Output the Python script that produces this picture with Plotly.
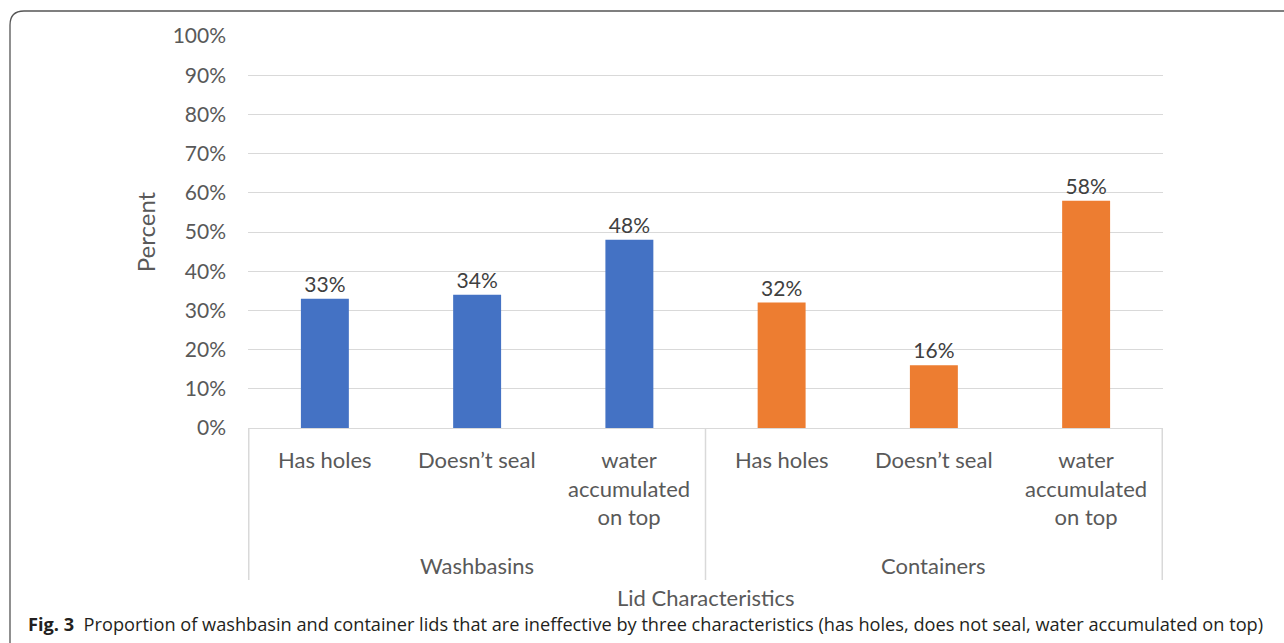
import plotly.graph_objects as go

groups = ["Washbasins", "Washbasins", "Washbasins", "Containers", "Containers", "Containers"]
categories = ["Has holes", "Doesn’t seal", "water<br>accumulated<br>on top",
              "Has holes", "Doesn’t seal", "water<br>accumulated<br>on top"]
group_names = ["Washbasins", "Containers"]
values = [0.33, 0.34, 0.48, 0.32, 0.16, 0.58]
labels = ["33%", "34%", "48%", "32%", "16%", "58%"]
bar_colors = ["#4472C4", "#4472C4", "#4472C4", "#ED7D31", "#ED7D31", "#ED7D31"]
y_ticks = [0, 0.1, 0.2, 0.3, 0.4, 0.5, 0.6, 0.7, 0.8, 0.9, 1.0]
y_ticktext = ["0%", "10%", "20%", "30%", "40%", "50%", "60%", "70%", "80%", "90%", "100%"]
caption = "<b>Fig. 3</b>  Proportion of washbasin and container lids that are ineffective by three characteristics (has holes, does not seal, water accumulated on top)"

W, H = 1284, 643
L, R, T, B = 248, 121, 36, 215
pw, ph = W - L - R, H - T - B

def px(xp):
    return (xp - L) / pw

def py(yp):
    return (H - B - yp) / ph

TXT = "#595959"
fig = go.Figure()
fig.add_trace(go.Bar(
    x=[groups, categories], y=values,
    marker=dict(color=bar_colors, line=dict(width=0)),
    text=labels, textposition="outside", cliponaxis=False,
    textfont=dict(family="Lato", size=21, color="#404040"),
    hoverinfo="skip",
))

# category labels (first level)
for i, c in enumerate(categories):
    fig.add_annotation(text=c, x=i, xref="x", y=py(444), yref="paper",
                       xanchor="center", yanchor="top", showarrow=False,
                       font=dict(family="Lato", size=22, color=TXT))

# group labels (second level) and dividers
n_per = len(categories) // len(group_names)
for g, name in enumerate(group_names):
    fig.add_annotation(text=name, x=g * n_per + (n_per - 1) / 2, xref="x",
                       y=py(565), yref="paper", xanchor="center", yanchor="middle",
                       showarrow=False, font=dict(family="Lato", size=22, color=TXT))
for k in range(len(group_names) + 1):
    xd = k * n_per - 0.5
    fig.add_shape(type="line", x0=xd, x1=xd, xref="x", y0=0, y1=py(580), yref="paper",
                  line=dict(color="#d9d9d9", width=1.5), layer="above")

# axis title
fig.add_annotation(text="Lid Characteristics", x=0.5, xref="paper", y=py(597), yref="paper",
                   xanchor="center", yanchor="middle", showarrow=False,
                   font=dict(family="Lato", size=22, color=TXT))

# rounded border frame
x0, y0 = px(10), py(11)
x1, y1 = px(1300), py(660)
rx, ry = 14 / pw, 14 / ph
path = (f"M {x0},{y1} L {x0},{y0 - ry} Q {x0},{y0} {x0 + rx},{y0} "
        f"L {x1},{y0}")
fig.add_shape(type="path", path=path, xref="paper", yref="paper",
              line=dict(color="#555555", width=1.3), layer="above")

fig.add_annotation(text=caption, x=px(26), y=py(624), xref="paper", yref="paper",
                   xanchor="left", yanchor="middle", showarrow=False,
                   font=dict(family="Open Sans", size=18.2, color="#231f20"))

fig.update_layout(
    width=W, height=H,
    margin=dict(l=L, r=R, t=T, b=B, autoexpand=False),
    paper_bgcolor="white", plot_bgcolor="white",
    showlegend=False, bargap=0.685,
    font=dict(family="Lato", color=TXT),
    xaxis=dict(
        type="multicategory", showticklabels=False,
        showline=True, linecolor="#d9d9d9", linewidth=1,
        showdividers=False, ticks="", showgrid=False,
    ),
    yaxis=dict(
        range=[0, 1], tickvals=y_ticks, ticktext=y_ticktext,
        tickfont=dict(family="Lato", size=21, color=TXT),
        showgrid=True, gridcolor="#d9d9d9", gridwidth=1,
        zeroline=False, showline=False, ticks="", ticklabelstandoff=21,
        title=dict(text="Percent", standoff=10,
                   font=dict(family="Lato", size=24, color=TXT)),
    ),
)

fig.write_html("out.html", config={"displayModeBar": False},
               post_script="document.body.style.margin='0';")
